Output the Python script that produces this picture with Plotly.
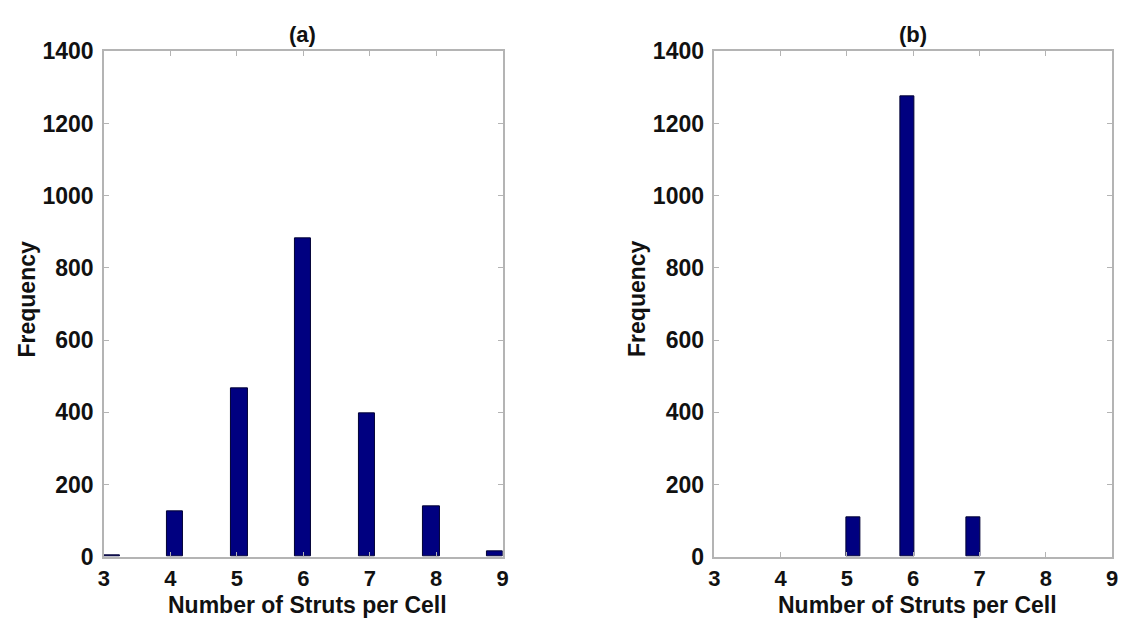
import plotly.graph_objects as go

# Histogram of struts per cell for two foam structures
struts_ticks = [3, 4, 5, 6, 7, 8, 9]

# (a) bin centres and counts
bin_centres_a = [3.12, 4.07, 5.04, 6.0, 6.96, 7.93, 8.88]
freq_a = [4, 125, 466, 883, 397, 140, 14]

# (b) bin centres and counts (only non-empty bins)
bin_centres_b = [5.1, 5.91, 6.91]
freq_b = [110, 1275, 110]

y_ticks = [0, 200, 400, 600, 800, 1000, 1200, 1400]

BAR = "#000080"
AXIS = "#b4b4b4"
FONT = "Arial, Liberation Sans, sans-serif"
TXT = "#111111"

fig = go.Figure()
fig.add_trace(go.Bar(x=bin_centres_a, y=freq_a, width=0.245,
                     marker=dict(color=BAR, line=dict(color="#000033", width=1)),
                     xaxis="x", yaxis="y", showlegend=False))
fig.add_trace(go.Bar(x=bin_centres_b, y=freq_b, width=0.21,
                     marker=dict(color=BAR, line=dict(color="#000033", width=1)),
                     xaxis="x2", yaxis="y2", showlegend=False))

W, H = 1127, 632
ydom = [(H - 567) / H, (H - 40) / H]

def xaxis(dom, anchor):
    return dict(domain=dom, anchor=anchor, range=[3, 9], tickvals=struts_ticks,
                ticktext=[str(v) for v in struts_ticks],
                showline=True, linecolor=AXIS, linewidth=1.5, mirror="ticks",
                ticks="inside", ticklen=5, tickcolor=AXIS, tickwidth=1,
                showgrid=False, zeroline=False, ticklabelstandoff=1,
                tickfont=dict(family=FONT, size=22, color=TXT, weight="bold"))

def yaxis(anchor):
    return dict(domain=ydom, anchor=anchor, range=[0, 1400], tickvals=y_ticks,
                showline=True, linecolor=AXIS, linewidth=1.5, mirror="ticks",
                ticks="inside", ticklen=5, tickcolor=AXIS, tickwidth=1,
                showgrid=False, zeroline=False, ticklabelstandoff=4,
                tickfont=dict(family=FONT, size=23, color=TXT, weight="bold"))

fig.update_layout(
    width=W, height=H,
    margin=dict(l=0, r=0, t=0, b=0),
    paper_bgcolor="white", plot_bgcolor="white",
    bargap=0,
    xaxis=xaxis([99 / W, 502 / W], "y"),
    yaxis=yaxis("x"),
    xaxis2=xaxis([716 / W, 1118 / W], "y2"),
    yaxis2=yaxis("x2"),
)

def label(text, x, y, angle=0, size=23):
    fig.add_annotation(text=text, x=x / W, y=1 - y / H, xref="paper", yref="paper",
                       showarrow=False, textangle=angle, xanchor="center", yanchor="middle",
                       borderpad=0,
                       font=dict(family=FONT, size=size, color=TXT, weight="bold"))

# panel titles
label("(a)", 300, 22, size=22)
label("(b)", 917, 22, size=22)
# axis titles
label("Number of Struts per Cell", 305, 617)
label("Number of Struts per Cell", 921, 617)
label("Frequency", 21, 298, -90)
label("Frequency", 638, 298, -90)

fig.write_html("out.html")
